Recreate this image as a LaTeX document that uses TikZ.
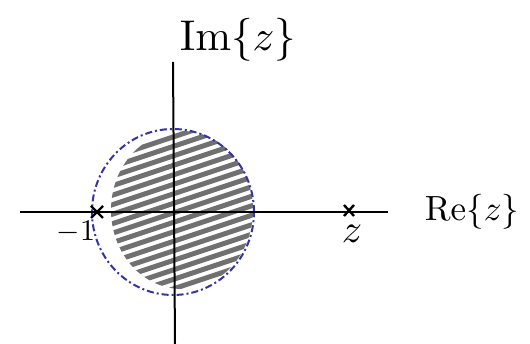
\documentclass[tikz,border=0pt]{standalone}
\usetikzlibrary{calc}
\definecolor{penblue}{HTML}{3434A8}
\definecolor{pengray}{HTML}{707070}
\begin{document}
\begin{tikzpicture}[x=1pt,y=1pt,
  axis/.style={line width=2pt,black},
  ring/.style={penblue,line width=2pt,dash pattern=on 7pt off 3pt on 2pt off 3pt},
  hatch/.style={pengray,line width=5pt,line cap=round},
  cross/.style={line width=2.4pt,black},
  lbl/.style={inner sep=0pt,black,transform shape}]
\useasboundingbox (0,0) rectangle (530,344);
% axes
\coordinate (xl) at (20,132);
\coordinate (xr) at (388,132);
\coordinate (yt) at (173,282);
\coordinate (yb) at (175,0);
\coordinate (o) at (173,132);
% hatched interior
\begin{scope}
  \clip (182,134) ellipse (71 and 79);
  \foreach \k in {-14,...,14}{
    \draw[hatch] ($(182,134)+(-120,{\k*9.5-40})$) -- ++(240,80);
  }
\end{scope}
% circle
\draw[ring] (o) ellipse (81 and 83);
\draw[axis] (xl) -- (xr);
\draw[axis] (yb) -- (yt);
% crosses
\coordinate (m1) at (97,132);
\coordinate (m2) at (349,133);
\draw[cross] ($(m1)+(-6,6)$) -- ($(m1)+(6,-6)$) ($(m1)+(-6,-6)$) -- ($(m1)+(6,6)$);
\draw[cross] ($(m2)+(-5,6)$) -- ($(m2)+(5,-5)$) ($(m2)+(-5,-5)$) -- ($(m2)+(5,6)$);
% labels
\node[lbl,scale=3] (lm1) at (76,112) {$-1$};
\node[lbl,scale=4] (lz) at (352,110) {$z$};
\node[lbl,scale=4.3] (lim) at (238,304) {$\mathrm{Im}\{z\}$};
\node[lbl,scale=3.5] (lre) at (472,132) {$\mathrm{Re}\{z\}$};
\end{tikzpicture}
\end{document}
